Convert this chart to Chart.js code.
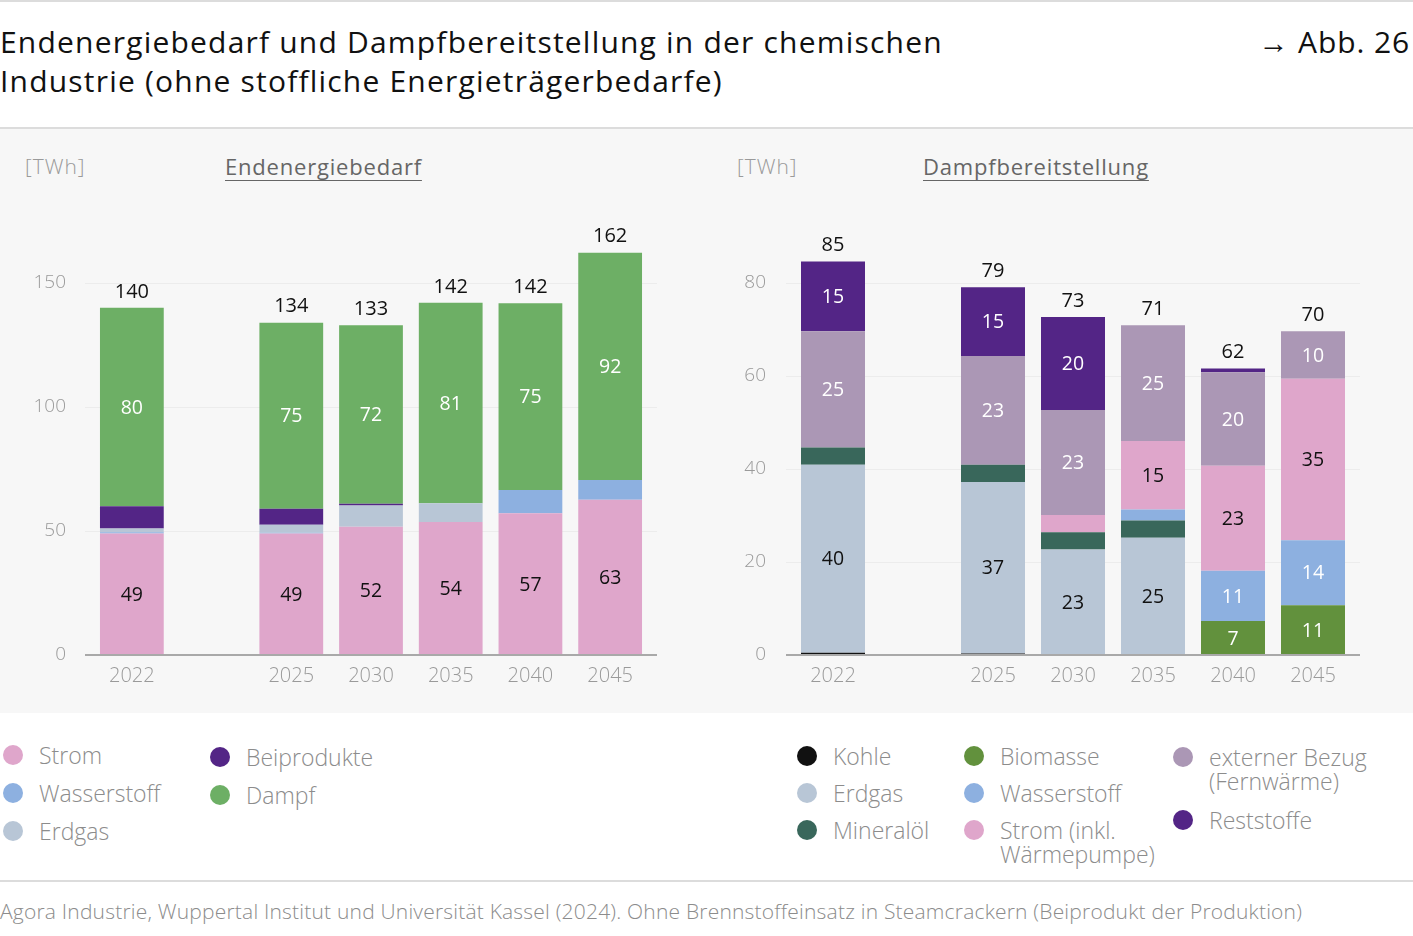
<!DOCTYPE html>
<html lang="de">
<head>
<meta charset="utf-8">
<script src="https://cdn.jsdelivr.net/npm/chart.js@4.4.1/dist/chart.umd.min.js"></script>
<style>
  html, body { margin: 0; padding: 0; background: #fff; }
  body { width: 1413px; height: 936px; position: relative; overflow: hidden; font-family: "Open Sans", sans-serif; }
  .rule { position: absolute; left: 0; width: 1413px; height: 2px; background: #dcdcdc; }
  #title { position: absolute; left: 0; top: 22px; font-size: 30px; line-height: 39px; color: #111; font-weight: 400; letter-spacing: 1.2px; }
  #abb { position: absolute; right: 3px; top: 22px; font-size: 30px; line-height: 39px; color: #111; letter-spacing: 0.9px; }
  #panel { position: absolute; left: 0; top: 129px; width: 1413px; height: 584px; background: #f7f7f7; }
  .unit { position: absolute; top: 152px; font-size: 21px; line-height: 28px; color: #9a9a9a; font-weight: 300; letter-spacing: 1px; }
  .sub { position: absolute; top: 152px; font-size: 22px; line-height: 28px; color: #666; text-decoration: underline; text-underline-offset: 5px; text-decoration-thickness: 1px; letter-spacing: 0.8px; }
  canvas { position: absolute; }
  .lcol { position: absolute; }
  .litem { display: flex; align-items: flex-start; }
  .dot { width: 20px; height: 20px; border-radius: 50%; flex: none; margin-top: 2px; }
  .ltxt { font-size: 23px; line-height: 24px; color: #8c8c8c; font-weight: 300; white-space: pre-line; margin-left: 16px; }
  #source { position: absolute; left: 0; top: 898px; font-size: 21px; line-height: 26px; color: #8c8c8c; font-weight: 300; white-space: nowrap; letter-spacing: 0.2px; }
</style>
</head>
<body>
<div class="rule" style="top:0"></div>
<div id="title">Endenergiebedarf und Dampfbereitstellung in der chemischen<br>Industrie (ohne stoffliche Energieträgerbedarfe)</div>
<div id="abb">→ Abb. 26</div>
<div class="rule" style="top:127px"></div>
<div id="panel"></div>
<div class="unit" style="left:25px">[TWh]</div>
<div class="sub" style="left:225px">Endenergiebedarf</div>
<div class="unit" style="left:737px">[TWh]</div>
<div class="sub" style="left:923px">Dampfbereitstellung</div>
<canvas id="c1" width="700" height="500" style="left:0;top:202px"></canvas>
<canvas id="c2" width="713" height="500" style="left:700px;top:202px"></canvas>
<div id="legends"></div>
<div class="rule" style="top:880px"></div>
<div id="source">Agora Industrie, Wuppertal Institut und Universität Kassel (2024). Ohne Brennstoffeinsatz in Steamcrackern (Beiprodukt der Produktion)</div>

<script>
// ---------- DATA ----------
const years = ['2022', '2025', '2030', '2035', '2040', '2045'];

// Endenergiebedarf [TWh]
const endNames = ['Strom', 'Wasserstoff', 'Erdgas', 'Beiprodukte', 'Dampf'];
const endStrom       = [49.0, 49.0, 51.7, 53.6, 57.2, 62.6];
const endWasserstoff = [0.5, 0.3, 0, 0, 9.3, 8.0];
const endErdgas      = [1.5, 3.2, 8.6, 7.6, 0, 0];
const endBeiprodukte = [9.0, 6.5, 0.7, 0, 0, 0];
const endDampf       = [80.0, 75.0, 72.0, 80.8, 75.3, 91.6];

// Dampfbereitstellung [TWh]
const dampfNames = ['Kohle', 'Erdgas', 'Mineralöl', 'Biomasse', 'Wasserstoff', 'Strom (inkl.\nWärmepumpe)', 'externer Bezug\n(Fernwärme)', 'Reststoffe'];
const dKohle       = [0.5, 0.3, 0, 0, 0, 0];
const dErdgas      = [40.4, 36.9, 22.7, 25.2, 0, 0];
const dMineraloel  = [3.7, 3.7, 3.7, 3.7, 0, 0];
const dBiomasse    = [0, 0, 0, 0, 7.3, 10.7];
const dWasserstoff = [0, 0, 0, 2.4, 10.8, 14.0];
const dStrom       = [0, 0, 3.7, 14.7, 22.6, 34.7];
const dExtern      = [25.0, 23.4, 22.6, 24.9, 20.1, 10.2];
const dReststoffe  = [15.0, 14.8, 20.0, 0, 0.8, 0];

// Axis ticks
const endTicks = [0, 50, 100, 150];
const dampfTicks = [0, 20, 40, 60, 80];

// ---------- STYLE ----------
const C = {
  strom: '#dfa6cb', h2: '#8db0e0', gas: '#b8c6d6', purple: '#532586', dampf: '#6daf65',
  kohle: '#111111', oel: '#39675b', bio: '#62913d', extern: '#ab97b5'
};
const endColors = [C.strom, C.h2, C.gas, C.purple, C.dampf];
const endLabelColors = ['#111', '#fff', '#111', '#fff', '#fff'];
const dampfColors = [C.kohle, C.gas, C.oel, C.bio, C.h2, C.strom, C.extern, C.purple];
const dampfLabelColors = ['#fff', '#111', '#fff', '#fff', '#fff', '#111', '#fff', '#fff'];

const FONT = '"Open Sans", sans-serif';

// insert an empty slot after the first year (gap in the chart)
const withGap = arr => [arr[0], null, ...arr.slice(1)];
const catLabels = withGap(years).map(v => v === null ? '' : v);

const labelPlugin = {
  id: 'labels',
  beforeDatasetsDraw(chart) {
    const { ctx, chartArea: a, scales: { y } } = chart;
    ctx.save();
    ctx.strokeStyle = '#ececec';
    ctx.lineWidth = 1;
    y.ticks.forEach(t => {
      if (t.value === 0) return;
      const py = Math.round(y.getPixelForValue(t.value)) + 0.5;
      ctx.beginPath(); ctx.moveTo(a.left - 7, py); ctx.lineTo(a.right + 7, py); ctx.stroke();
    });
    ctx.restore();
  },
  afterDatasetsDraw(chart) {
    const { ctx, chartArea: a, scales: { y } } = chart;
    const lblColors = chart.options.plugins.labels.colors;
    ctx.save();
    // baseline
    const py0 = y.getPixelForValue(0);
    ctx.strokeStyle = '#a9a9a9';
    ctx.lineWidth = 2;
    ctx.beginPath(); ctx.moveTo(a.left - 7, py0); ctx.lineTo(a.right + 7, py0); ctx.stroke();

    ctx.font = '500 19.5px ' + FONT;
    ctx.textAlign = 'center';
    ctx.textBaseline = 'middle';
    const n = chart.data.labels.length;
    const tops = new Array(n).fill(null);
    const sums = new Array(n).fill(0);
    chart.data.datasets.forEach((ds, di) => {
      const meta = chart.getDatasetMeta(di);
      meta.data.forEach((el, i) => {
        const v = ds.data[i];
        if (v === null || v === undefined) return;
        sums[i] += v;
        if (v > 0) {
          tops[i] = tops[i] === null ? el.y : Math.min(tops[i], el.y);
          const h = Math.abs(el.base - el.y);
          if (h >= 28) {
            ctx.fillStyle = lblColors[di];
            ctx.fillText(String(Math.round(v)), el.x, (el.y + el.base) / 2 + 1);
          }
        }
      });
    });
    ctx.fillStyle = '#111';
    ctx.font = '500 20px ' + FONT;
    const meta0 = chart.getDatasetMeta(0);
    for (let i = 0; i < n; i++) {
      if (tops[i] === null) continue;
      ctx.fillText(String(Math.round(sums[i])), meta0.data[i].x, tops[i] - 16);
    }
    ctx.restore();
  }
};

function makeChart(id, names, series, colors, labelColors, ticks, yMax, yWidth, tickPad, padRight) {
  return new Chart(document.getElementById(id), {
    type: 'bar',
    data: {
      labels: catLabels,
      datasets: series.map((s, i) => ({
        label: names[i].replace('\n', ' '),
        data: withGap(s),
        backgroundColor: colors[i],
        borderWidth: 0,
        categoryPercentage: 1,
        barPercentage: 0.8
      }))
    },
    options: {
      responsive: false,
      animation: false,
      devicePixelRatio: 1,
      layout: { padding: { top: 19, right: padRight, left: 0, bottom: 0 } },
      plugins: { legend: { display: false }, tooltip: { enabled: false }, labels: { colors: labelColors } },
      scales: {
        x: {
          stacked: true,
          grid: { display: false, drawTicks: false },
          border: { display: false },
          ticks: { color: '#9a9a9a', font: { family: FONT, size: 20, weight: 300 }, padding: 9, maxRotation: 0, autoSkip: false },
          afterFit(s) { s.height = 47; s.paddingLeft = 0; s.paddingRight = 0; }
        },
        y: {
          stacked: true,
          min: 0,
          max: yMax,
          grid: { display: false, drawTicks: false },
          border: { display: false },
          ticks: { color: '#9a9a9a', font: { family: FONT, size: 19, weight: 300 }, padding: tickPad },
          afterBuildTicks(s) { s.ticks = ticks.map(v => ({ value: v })); },
          afterFit(s) { s.width = yWidth; s.paddingTop = 0; s.paddingBottom = 0; }
        }
      }
    },
    plugins: [labelPlugin]
  });
}

function draw() {
  makeChart('c1', endNames, [endStrom, endWasserstoff, endErdgas, endBeiprodukte, endDampf],
    endColors, endLabelColors, endTicks, 175, 92, 26, 50);
  makeChart('c2', dampfNames, [dKohle, dErdgas, dMineraloel, dBiomasse, dWasserstoff, dStrom, dExtern, dReststoffe],
    dampfColors, dampfLabelColors, dampfTicks, 175 * 80 / 150, 93, 27, 60);

  // legends
  const legendCols = [
    { left: 3, top: 743, gap: 14, idx: [0, 1, 2], names: endNames, colors: endColors },
    { left: 210, top: 745, gap: 14, idx: [3, 4], names: endNames, colors: endColors },
    { left: 797, top: 744, gap: 13, idx: [0, 1, 2], names: dampfNames, colors: dampfColors },
    { left: 964, top: 744, gap: 13, idx: [3, 4, 5], names: dampfNames, colors: dampfColors },
    { left: 1173, top: 745, gap: 15, idx: [6, 7], names: dampfNames, colors: dampfColors }
  ];
  const host = document.getElementById('legends');
  legendCols.forEach(col => {
    const div = document.createElement('div');
    div.className = 'lcol';
    div.style.left = col.left + 'px';
    div.style.top = col.top + 'px';
    col.idx.forEach(i => {
      const it = document.createElement('div');
      it.className = 'litem';
      it.style.marginBottom = col.gap + 'px';
      const d = document.createElement('div');
      d.className = 'dot';
      d.style.background = col.colors[i];
      const t = document.createElement('div');
      t.className = 'ltxt';
      t.textContent = col.names[i];
      it.appendChild(d); it.appendChild(t);
      div.appendChild(it);
    });
    host.appendChild(div);
  });
}

if (document.fonts && document.fonts.load) {
  Promise.all([
    document.fonts.load('300 19px "Open Sans"'),
    document.fonts.load('500 19px "Open Sans"')
  ]).then(draw, draw);
} else {
  draw();
}
</script>
</body>
</html>
